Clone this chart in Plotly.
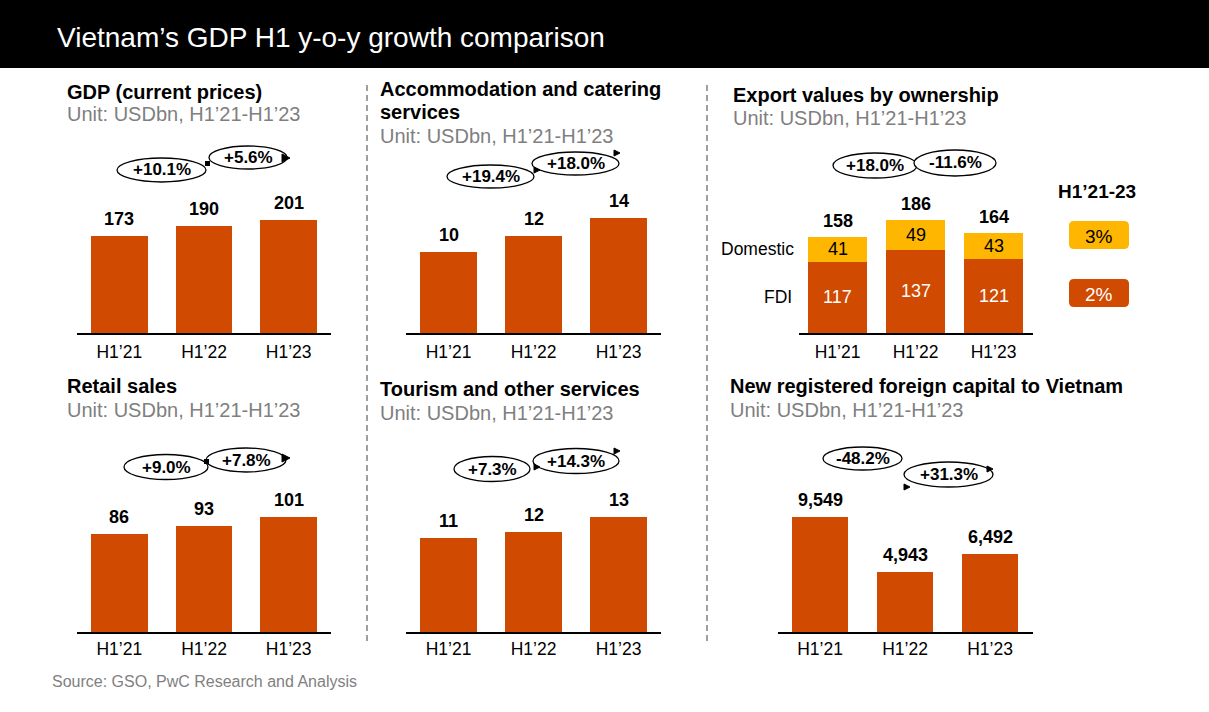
import plotly.graph_objects as go

W, H = 1209, 712
FONT = "Liberation Sans, Arial, sans-serif"
ORANGE = "#D04A02"
YELLOW = "#FFB600"
GREY = "#808080"

# ---------------- data ----------------
periods = ["H1’21", "H1’22", "H1’23"]

gdp = [173, 190, 201]
gdp_growth = ["+10.1%", "+5.6%"]

accom = [10.2, 12.2, 14.4]
accom_growth = ["+19.4%", "+18.0%"]

export_fdi = [117, 137, 121]
export_dom = [41, 49, 43]
export_growth = ["+18.0%", "-11.6%"]
export_cagr_dom = "3%"
export_cagr_fdi = "2%"

retail = [86, 93, 101]
retail_growth = ["+9.0%", "+7.8%"]

tourism = [10.9, 11.7, 13.4]
tourism_growth = ["+7.3%", "+14.3%"]

fdi_cap = [9549, 4943, 6492]
fdi_growth = ["-48.2%", "+31.3%"]


def px(x):
    return x / W


def py(y):
    return 1 - y / H


fig = go.Figure()
annotations = []
shapes = []


def txt(x, y, text, size, color="black", bold=False, xanchor="left", yanchor="middle"):
    if bold:
        text = "<b>" + text + "</b>"
    if xanchor == "left":
        x -= 2
    annotations.append(dict(x=px(x), y=py(y), xref="paper", yref="paper", text=text,
                            showarrow=False, xanchor=xanchor, yanchor=yanchor,
                            font=dict(family=FONT, size=size, color=color)))


def ellipse(cx, cy, w, h, label):
    shapes.append(dict(type="circle", xref="paper", yref="paper",
                       x0=px(cx - w / 2), x1=px(cx + w / 2), y0=py(cy + h / 2), y1=py(cy - h / 2),
                       line=dict(color="black", width=1.3), fillcolor="white", layer="above"))
    annotations.append(dict(x=px(cx), y=py(cy), xref="paper", yref="paper", text="<b>" + label + "</b>",
                            showarrow=False, xanchor="center", yanchor="middle",
                            font=dict(family=FONT, size=17, color="black")))


def head(x, y, s=4):
    pts = [(x - s, y - s), (x + s, y), (x - s, y + s)]
    path = "M {} {} L {} {} L {} {} Z".format(*[v for p in pts for v in (px(p[0]), py(p[1]))])
    shapes.append(dict(type="path", xref="paper", yref="paper", path=path,
                       fillcolor="black", line=dict(color="black", width=1), layer="above"))


# panel geometry: (x-domain px, baseline px, top px, scale px/unit)
panels = [
    dict(xd=(77, 331), base=333, top=150, scale=97 / 173, width=0.67),
    dict(xd=(406, 661), base=333, top=150, scale=115 / 14.4, width=0.67),
    dict(xd=(798.5, 1032.5), base=333, top=150, scale=96 / 158, width=0.756),
    dict(xd=(77, 331), base=632, top=450, scale=115 / 101, width=0.67),
    dict(xd=(406, 661), base=632, top=450, scale=115 / 13.4, width=0.67),
    dict(xd=(777.5, 1032.5), base=632, top=450, scale=115 / 9549, width=0.67),
]

series = [gdp, accom, None, retail, tourism, fdi_cap]
fmt = [lambda v: f"{v:.0f}", lambda v: f"{v:.0f}", None,
       lambda v: f"{v:.0f}", lambda v: f"{v:.0f}", lambda v: f"{v:,}"]

layout_axes = {}
for i, p in enumerate(panels, start=1):
    xa = "xaxis" if i == 1 else f"xaxis{i}"
    ya = "yaxis" if i == 1 else f"yaxis{i}"
    xr = "x" if i == 1 else f"x{i}"
    yr = "y" if i == 1 else f"y{i}"
    ymax = (p["base"] - p["top"]) / p["scale"]
    layout_axes[xa] = dict(domain=[px(p["xd"][0]), px(p["xd"][1])], anchor=yr,
                           type="category", range=[-0.5, 2.5], showgrid=False, zeroline=False,
                           showline=True, linecolor="black", linewidth=1.5, ticks="",
                           ticklabelstandoff=2 if p["base"] < 400 else 0,
                           tickfont=dict(family=FONT, size=17.5, color="black"), fixedrange=True)
    layout_axes[ya] = dict(domain=[py(p["base"]), py(p["top"])], anchor=xr, range=[0, ymax],
                           visible=False, fixedrange=True)
    if i != 3:
        vals = series[i - 1]
        fig.add_trace(go.Bar(x=periods, y=vals, xaxis=xr, yaxis=yr, marker_color=ORANGE,
                             marker_line_width=0, width=p["width"], hoverinfo="skip"))
        for c, v in zip(periods, vals):
            annotations.append(dict(x=c, y=v, xref=xr, yref=yr, text="<b>" + fmt[i - 1](v) + "</b>",
                                    showarrow=False, xanchor="center", yanchor="bottom", yshift=5,
                                    font=dict(family=FONT, size=18, color="black")))
    else:
        fig.add_trace(go.Bar(x=periods, y=export_fdi, xaxis=xr, yaxis=yr, marker_color=ORANGE,
                             marker_line_width=0, width=p["width"], hoverinfo="skip"))
        fig.add_trace(go.Bar(x=periods, y=export_dom, xaxis=xr, yaxis=yr, marker_color=YELLOW,
                             marker_line_width=0, width=p["width"], hoverinfo="skip"))
        for c, f, d in zip(periods, export_fdi, export_dom):
            annotations.append(dict(x=c, y=f / 2, xref=xr, yref=yr, text=str(f), showarrow=False,
                                    xanchor="center", yanchor="middle",
                                    font=dict(family=FONT, size=18, color="white")))
            annotations.append(dict(x=c, y=f + d / 2, xref=xr, yref=yr, text=str(d), showarrow=False,
                                    xanchor="center", yanchor="middle",
                                    font=dict(family=FONT, size=18, color="black")))
            annotations.append(dict(x=c, y=f + d, xref=xr, yref=yr, text="<b>" + str(f + d) + "</b>",
                                    showarrow=False, xanchor="center", yanchor="bottom", yshift=4,
                                    font=dict(family=FONT, size=18, color="black")))
        annotations.append(dict(x=px(796), y=export_fdi[0] + export_dom[0] / 2, xref="paper", yref=yr,
                                text="Domestic", showarrow=False, xanchor="right", yanchor="middle",
                                font=dict(family=FONT, size=17.5, color="black")))
        annotations.append(dict(x=px(794), y=export_fdi[0] / 2, xref="paper", yref=yr,
                                text="FDI", showarrow=False, xanchor="right", yanchor="middle",
                                font=dict(family=FONT, size=17.5, color="black")))

fig.update_layout(barmode="stack", **layout_axes)

# ---------------- title bar ----------------
shapes.append(dict(type="rect", xref="paper", yref="paper", x0=0, x1=1, y0=py(68), y1=1,
                   fillcolor="black", line=dict(width=0), layer="below"))
txt(57, 38, "Vietnam’s GDP H1 y-o-y growth comparison", 28, color="white")

# ---------------- panel titles ----------------
SUB = "#7F7F7F"
TS = 20
txt(67, 92, "GDP (current prices)", TS, bold=True)
txt(67, 114, "Unit: USDbn, H1’21-H1’23", TS, color=SUB)
txt(380, 89, "Accommodation and catering", TS, bold=True)
txt(380, 112, "services", TS, bold=True)
txt(380, 136, "Unit: USDbn, H1’21-H1’23", TS, color=SUB)
txt(733, 95, "Export values by ownership", TS, bold=True)
txt(733, 118, "Unit: USDbn, H1’21-H1’23", TS, color=SUB)
txt(67, 386, "Retail sales", TS, bold=True)
txt(67, 410, "Unit: USDbn, H1’21-H1’23", TS, color=SUB)
txt(380, 389, "Tourism and other services", TS, bold=True)
txt(380, 413, "Unit: USDbn, H1’21-H1’23", TS, color=SUB)
txt(730, 386, "New registered foreign capital to Vietnam", TS, bold=True)
txt(730, 410, "Unit: USDbn, H1’21-H1’23", TS, color=SUB)

txt(52, 681, "Source: GSO, PwC Research and Analysis", 16, color=SUB)

# ---------------- separators ----------------
for xs in (367, 707):
    shapes.append(dict(type="line", xref="paper", yref="paper", x0=px(xs), x1=px(xs),
                       y0=py(85), y1=py(644), line=dict(color=GREY, width=1.5, dash="6px,4px")))

# ---------------- growth ellipses ----------------
ellipse(161.5, 170, 89, 24, gdp_growth[0])
ellipse(248, 157.5, 78, 23, gdp_growth[1])
shapes.append(dict(type="rect", xref="paper", yref="paper", x0=px(205), x1=px(210), y0=py(166), y1=py(161),
                   fillcolor="black", line=dict(width=0), layer="above"))
head(286, 158)

ellipse(490.5, 176.5, 87, 23, accom_growth[0])
ellipse(575.5, 163.5, 87, 23, accom_growth[1])
head(537, 170, 3)
head(617, 153, 3)

ellipse(875, 165.5, 84, 25, export_growth[0])
ellipse(955, 163, 82, 26, export_growth[1])

ellipse(166, 467, 84, 25, retail_growth[0])
ellipse(246, 460, 80, 24, retail_growth[1])
shapes.append(dict(type="rect", xref="paper", yref="paper", x0=px(204), x1=px(209), y0=py(464), y1=py(459),
                   fillcolor="black", line=dict(width=0), layer="above"))
head(286, 458)

ellipse(492, 469, 76, 25, tourism_growth[0])
ellipse(576, 461, 86, 25, tourism_growth[1])
head(537, 467, 3)
head(617, 451, 3)

ellipse(862.5, 458.5, 79, 23, fdi_growth[0])
ellipse(948.5, 474.5, 89, 25, fdi_growth[1])
head(907, 487, 3)
head(990, 469, 3)

# ---------------- CAGR legend ----------------
txt(1097, 191, "H1’21-23", 19, bold=True, xanchor="center")


def rbox(x0, y0, x1, y1, color, r=5):
    path = (f"M {px(x0 + r)} {py(y0)} L {px(x1 - r)} {py(y0)} Q {px(x1)} {py(y0)} {px(x1)} {py(y0 + r)} "
            f"L {px(x1)} {py(y1 - r)} Q {px(x1)} {py(y1)} {px(x1 - r)} {py(y1)} "
            f"L {px(x0 + r)} {py(y1)} Q {px(x0)} {py(y1)} {px(x0)} {py(y1 - r)} "
            f"L {px(x0)} {py(y0 + r)} Q {px(x0)} {py(y0)} {px(x0 + r)} {py(y0)} Z")
    shapes.append(dict(type="path", xref="paper", yref="paper", path=path, fillcolor=color,
                       line=dict(width=0), layer="above"))


rbox(1069, 221, 1129, 249, YELLOW)
rbox(1069, 279, 1129, 307, ORANGE)
txt(1099, 236, export_cagr_dom, 19, xanchor="center")
txt(1099, 294, export_cagr_fdi, 19, color="white", xanchor="center")

fig.update_layout(width=W, height=H, margin=dict(l=0, r=0, t=0, b=0),
                  paper_bgcolor="white", plot_bgcolor="white", showlegend=False,
                  annotations=annotations, shapes=shapes, bargap=0.3)

fig.write_html("out.html")
